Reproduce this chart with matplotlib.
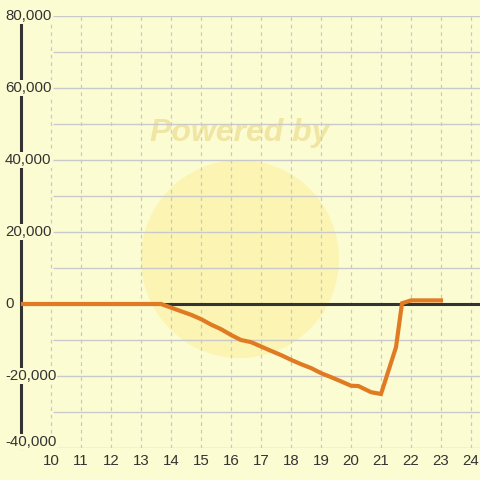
import matplotlib
matplotlib.use("Agg")
import matplotlib.pyplot as plt
from matplotlib.patches import Ellipse

# data
hours = [9.0, 13.67, 14.0, 14.33, 14.67, 15.0, 15.33, 15.67, 16.0, 16.33,
         16.67, 17.0, 17.33, 17.67, 18.0, 18.33, 18.67, 19.0, 19.33, 19.67,
         20.0, 20.25, 20.67, 21.0, 21.5, 21.7, 22.0, 23.0]
values = [0, 0, -1000, -2000, -3000, -4200, -5700, -7000, -8600, -10000,
          -10600, -11800, -13000, -14200, -15500, -16700, -17800, -19200, -20300, -21500,
          -22700, -22800, -24500, -25000, -12000, 200, 1000, 1000]

x_ticks = list(range(10, 25))
y_ticks = [-40000, -20000, 0, 20000, 40000, 60000, 80000]
y_grid = list(range(-40000, 80001, 10000))

bg = "#fcfcd2"
orange = "#e07b24"
dark = "#333333"
grid_col = "#c9c9cc"

plt.rcParams["font.family"] = ["Liberation Sans", "DejaVu Sans"]

fig = plt.figure(figsize=(4.8, 4.8), dpi=100, facecolor=bg)
ax = fig.add_axes([21 / 480, 32 / 480, 459 / 480, 432 / 480])
ax.set_facecolor(bg)
ax.set_xlim(9.0, 24.3)
ax.set_ylim(-40000, 80000)

# faint watermark
ax.add_patch(Ellipse((0.477, 0.4375), 198 / 459, 198 / 432, transform=ax.transAxes,
                     facecolor="#fbf0a2", edgecolor="none", alpha=0.65, zorder=0.5))
ax.text(0.477, 0.73, "Powered by", transform=ax.transAxes, ha="center", va="center",
        fontsize=23, fontweight="bold", fontstyle="italic", color="#ede096",
        alpha=0.8, zorder=0.6)

# grid
ax.hlines(y_grid, 10.07, 24.3, colors=grid_col, linewidth=1, zorder=1)
ax.vlines(x_ticks, -40000, 80000, colors=grid_col, linewidth=0.9,
          linestyles=(0, (3, 3)), zorder=1)

for s in ["top", "right", "bottom"]:
    ax.spines[s].set_visible(False)
ax.spines["left"].set_color(dark)
ax.spines["left"].set_linewidth(2.2)
ax.spines["left"].set_zorder(2)

ax.axhline(0, color=dark, linewidth=2.2, zorder=3)
ax.plot(hours, values, color=orange, linewidth=3, solid_joinstyle="miter", zorder=6)

ax.set_yticks([])
ax.set_xticks(x_ticks)
ax.set_xticklabels([str(t) for t in x_ticks], fontsize=10.8, color=dark)
ax.tick_params(axis="x", length=0, pad=4)

for v in y_ticks:
    yy = v if v != -40000 else -38300
    ax.text(8.47, yy, f"{v:,}", ha="left", va="center", fontsize=10.8, color=dark,
            bbox=dict(facecolor=bg, edgecolor="none", pad=0.5), zorder=5, clip_on=False)

fig.savefig("out.png", dpi=100, facecolor=bg)
